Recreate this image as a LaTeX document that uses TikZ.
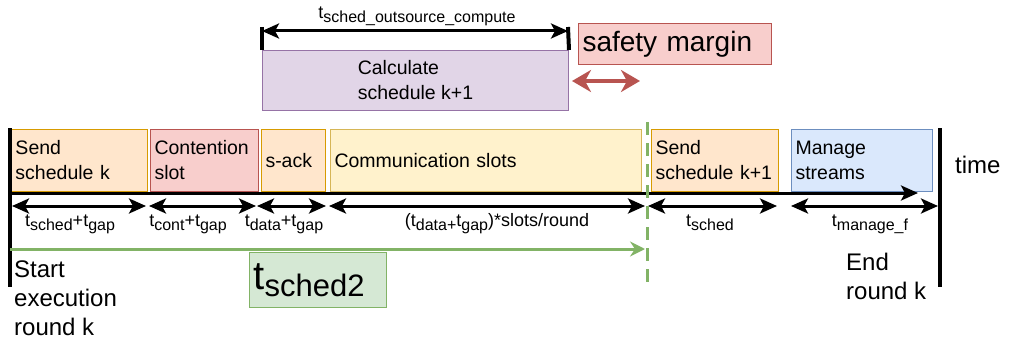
\documentclass[tikz,border=0pt]{standalone}
\usepackage{fontspec}
\setmainfont{Liberation Sans}
\usetikzlibrary{arrows.meta}

\definecolor{orangeF}{HTML}{FFE6CC}\definecolor{orangeD}{HTML}{D79B00}
\definecolor{redF}{HTML}{F8CECC}\definecolor{redD}{HTML}{B85450}
\definecolor{yellowF}{HTML}{FFF2CC}\definecolor{yellowD}{HTML}{D6B656}
\definecolor{blueF}{HTML}{DAE8FC}\definecolor{blueD}{HTML}{6C8EBF}
\definecolor{purpleF}{HTML}{E1D5E7}\definecolor{purpleD}{HTML}{9673A6}
\definecolor{greenF}{HTML}{D5E8D4}\definecolor{greenD}{HTML}{82B366}

% lowered, smaller text for subscripts: #1 drop, #2 size, #3 text
\newcommand\lowered[3]{\raisebox{-#1}{\fontsize{#2}{#2}\selectfont #3}}
\newcommand\dsub[1]{\lowered{4pt}{16}{#1}}

\begin{document}
\begin{tikzpicture}[x=1pt,y=-1pt,
  tbox/.style={draw, line width=1pt, anchor=north west, inner xsep=4pt, inner ysep=0pt,
               align=left, font=\fontsize{19.5}{25}\selectfont},
  dimarrow/.style={line width=3pt, {Stealth[length=17pt,width=15pt,inset=4pt]}-{Stealth[length=17pt,width=15pt,inset=4pt]}},
  dimlabel/.style={anchor=base, inner sep=0pt, font=\fontsize{18}{18}\selectfont},
  bigtext/.style={inner sep=0pt, align=left, anchor=north west, font=\fontsize{24}{29}\selectfont},
  bar/.style={line width=4pt}]
\useasboundingbox (0,0) rectangle (1010,345);

% --- round k slots ---
\node[tbox, fill=orangeF, draw=orangeD, minimum height=62pt, text width=128pt] (sk) at (11,129) {Send\\schedule k};
\node[tbox, fill=redF, draw=redD, minimum height=62pt, text width=100pt] (cs) at (150,129) {Contention\\slot};
\node[tbox, fill=orangeF, draw=orangeD, minimum height=62pt, text width=56pt] (sa) at (261,129) {s-ack};
\node[tbox, fill=yellowF, draw=yellowD, minimum height=62pt, text width=303pt] (cm) at (330,129) {Communication slots};
\node[tbox, fill=orangeF, draw=orangeD, minimum height=62pt, text width=119pt] (sk1) at (651,129) {Send\\schedule\ k+1};
\node[tbox, fill=blueF, draw=blueD, minimum height=62pt, text width=133pt] (ms) at (791,129) {Manage\\streams};

% --- outsourced computation ---
\node[draw=purpleD, fill=purpleF, line width=1pt, anchor=north west, minimum width=306pt, minimum height=60pt,
      align=left, font=\fontsize{19.5}{25}\selectfont] (calc) at (262,50) {Calculate\\schedule k+1};
\coordinate (ct1) at (262,27); \coordinate (ct2) at (568,27);
\draw[bar] (ct1) -- (calc.north west);
\draw[bar] (ct2) -- (calc.north east);
\coordinate (ca1) at (262,31); \coordinate (ca2) at (568,31);
\draw[dimarrow] (ca1) -- (ca2);
\node[dimlabel] (lc) at (417,19) {t\dsub{sched\_outsource\_compute}};

\node[draw=redD, fill=redF, line width=1pt, anchor=north west, minimum width=193pt, minimum height=41pt,
      inner xsep=4pt, align=left, text width=185pt, font=\fontsize{28}{28}\selectfont] (sm) at (578,23) {safety margin};
\coordinate (sa1) at (572,81); \coordinate (sa2) at (640,81);
\draw[line width=3.5pt, redD, {Stealth[length=19pt,width=22pt,inset=6pt]}-{Stealth[length=19pt,width=22pt,inset=6pt]}] (sa1) -- (sa2);

% --- round borders and time axis ---
\coordinate (L1) at (10,128); \coordinate (L2) at (10,287);
\coordinate (R1) at (940,128); \coordinate (R2) at (940,287);
\draw[bar] (L1) -- (L2);
\draw[bar] (R1) -- (R2);
\coordinate (ax0) at (10,193); \coordinate (ax1) at (918,193);
\draw[line width=3pt, -{Stealth[length=17pt,width=15pt,inset=4pt]}] (ax0) -- (ax1);
\node[anchor=base west, inner sep=0pt, font=\fontsize{24}{24}\selectfont] (time) at (955,173) {time};

% --- durations ---
\coordinate (d1a) at (12,206);  \coordinate (d1b) at (146,206);
\coordinate (d2a) at (149,206); \coordinate (d2b) at (256,206);
\coordinate (d3a) at (257,206); \coordinate (d3b) at (326,206);
\coordinate (d4a) at (329,206); \coordinate (d4b) at (645,206);
\coordinate (d5a) at (648,206); \coordinate (d5b) at (777,206);
\coordinate (d6a) at (791,206); \coordinate (d6b) at (938,206);
\draw[dimarrow] (d1a) -- (d1b);
\draw[dimarrow] (d2a) -- (d2b);
\draw[dimarrow] (d3a) -- (d3b);
\draw[dimarrow] (d4a) -- (d4b);
\draw[dimarrow] (d5a) -- (d5b);
\draw[dimarrow] (d6a) -- (d6b);
\node[dimlabel] (l1) at (70,226) {t\dsub{sched}+t\dsub{gap}};
\node[dimlabel] (l2) at (188,226) {t\dsub{cont}+t\dsub{gap}};
\node[dimlabel] (l3) at (284,226) {t\dsub{data}+t\dsub{gap}};
\node[dimlabel] (l4) at (497,226) {(t\dsub{data+}t\dsub{gap})*slots/round};
\node[dimlabel] (l5) at (710,226) {t\dsub{sched}};
\node[dimlabel] (l6) at (870,226) {t\dsub{manage\_f}};

% --- schedule deadline ---
\coordinate (g0) at (10,249); \coordinate (g1) at (645,249);
\draw[greenD, line width=3pt, -{Stealth[length=15pt,width=15pt,inset=5pt]}] (g0) -- (g1);
\coordinate (v0) at (647,122); \coordinate (v1) at (647,288);
\draw[greenD, line width=3pt, dash pattern=on 13pt off 8pt] (v0) -- (v1);
\node[draw=greenD, fill=greenF, line width=1pt, anchor=north west, minimum width=137pt, minimum height=55pt,
      inner xsep=4pt, align=left, text width=129pt] (ts2) at (249,252)
      {{\fontsize{40}{40}\selectfont t}\lowered{7pt}{31}{sched2}};

% --- round boundary captions ---
\node[bigtext] (start) at (14,261) {Start\\execution\\round k};
\node[bigtext] (end) at (846,253) {End\\round k};
\end{tikzpicture}
\end{document}
